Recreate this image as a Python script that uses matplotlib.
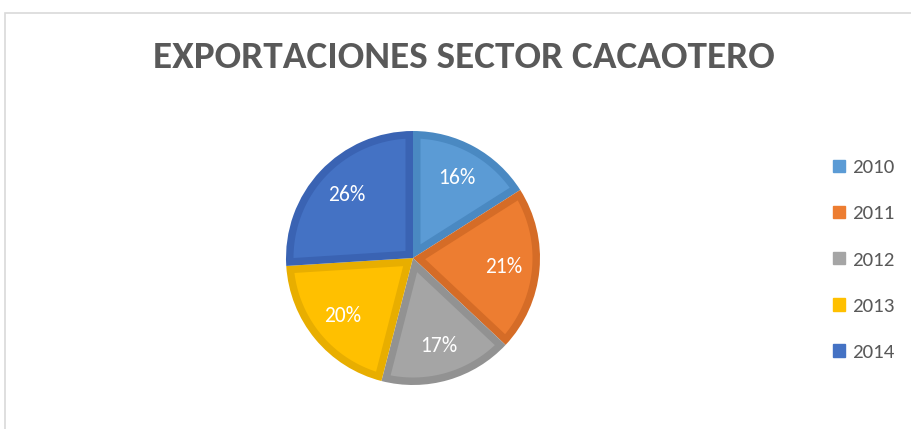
import numpy as np
import matplotlib.pyplot as plt
import matplotlib.patches as patches

years = ['2010', '2011', '2012', '2013', '2014']
shares = [16, 21, 17, 20, 26]
colors = ['#5B9BD5', '#ED7D31', '#A5A5A5', '#FFC000', '#4472C4']
edges = ['#4A89C2', '#D56C27', '#929292', '#E8AE00', '#3A63B3']

fam = ['Carlito', 'Open Sans', 'DejaVu Sans']

fig = plt.figure(figsize=(9.12, 4.29), dpi=100)
W, H = 912, 429

# light gray chart border (only top and left edges visible)
fig.patches.append(patches.Rectangle((5 / W, -0.1), 1.1, (429 - 13) / H + 0.1,
                                     transform=fig.transFigure, fill=False,
                                     edgecolor='#D9D9D9', lw=1.2))

fig.text(464 / W, 1 - 57 / H, 'EXPORTACIONES SECTOR CACAOTERO', ha='center', va='center',
         fontsize=28.3, fontweight='bold', color='#595959', family=fam)

cx, cy, r = 413, 258, 127
ax = fig.add_axes([(cx - r) / W, (H - cy - r) / H, 2 * r / W, 2 * r / H])
wedges, texts, autotexts = ax.pie(shares, colors=edges, startangle=90, counterclock=False,
                                  autopct='%1.0f%%', pctdistance=0.72,
                                  wedgeprops=dict(linewidth=0),
                                  textprops=dict(color='white', fontsize=15.5, family=fam))

# lighter inner part of each slice, inset by a fixed border width
d = 7.5 / r
for w, c in zip(wedges, colors):
    t1, t2 = np.radians(w.theta1), np.radians(w.theta2)
    half = (t2 - t1) / 2
    mid = t1 + half
    apex = d / np.sin(half) * np.array([np.cos(mid), np.sin(mid)])
    R = 1 - d
    off = np.arcsin(d / R)
    arc = np.linspace(t1 + off, t2 - off, 100)
    pts = np.vstack([apex, np.column_stack([R * np.cos(arc), R * np.sin(arc)])])
    ax.add_patch(patches.Polygon(pts, closed=True, facecolor=c, edgecolor='none', zorder=1.5))
for t in autotexts:
    t.set_zorder(3)

ax.set_xlim(-1, 1)
ax.set_ylim(-1, 1)
ax.set_aspect('equal')

handles = [patches.Patch(facecolor=c, edgecolor=c) for c in colors]
leg = fig.legend(handles, years, loc='center left', bbox_to_anchor=(823 / W, 1 - 260 / H),
                 frameon=False, labelspacing=1.4, handlelength=0.55,
                 handleheight=0.55, handletextpad=0.35, borderpad=0,
                 prop=dict(family=fam, size=15))
for t in leg.get_texts():
    t.set_color('#595959')

fig.savefig('out.png', dpi=100, facecolor='white')
